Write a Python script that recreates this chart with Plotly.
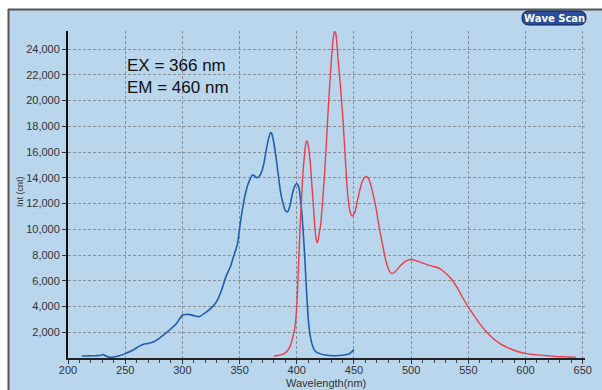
import plotly.graph_objects as go

# Excitation scan (blue)
ex_wl = [212, 216, 220, 224, 228, 231, 233, 236, 240, 245, 250, 257, 262, 266, 270, 275, 280, 286,
         291, 295, 300, 303, 307, 311, 315, 319, 323, 327, 330, 334, 338, 342, 345, 348, 351, 354,
         357, 359, 361, 363, 365, 367, 369, 371, 373, 375, 377, 378, 380, 382, 384, 386, 388, 390,
         392, 394, 396, 398, 400, 401, 402, 403, 404, 405, 406, 407, 408, 409, 410, 411, 412, 414,
         416, 420, 425, 432, 440, 446, 449, 450]
ex_int = [150, 160, 170, 180, 200, 260, 150, 70, 80, 180, 340, 620, 900, 1070, 1130, 1260, 1550, 1970,
          2350, 2700, 3320, 3380, 3370, 3260, 3220, 3450, 3720, 4050, 4400, 5200, 6300, 7100, 7950, 8800, 10700, 12300,
          13400, 13850, 14200, 14150, 14000, 14100, 14400, 15000, 16000, 16900, 17500, 17450, 16700, 15500, 14100, 12800, 12000, 11450,
          11350, 11800, 12700, 13300, 13550, 13450, 13200, 12500, 11700, 10600, 9300, 7850, 6100, 4500, 3100, 2200, 1600, 900,
          550, 340, 230, 180, 210, 330, 550, 650]

# Emission scan (red)
em_wl = [380, 385, 390, 393, 395, 397, 398.5, 400, 401, 402, 403, 404, 405, 406, 407, 408, 409, 410,
         411, 412, 413, 414, 415, 416, 417, 418, 419, 420, 421, 422, 423, 424, 425, 426, 427, 428,
         429, 430, 431, 432, 433, 434, 435, 436, 438, 440, 442, 444, 446, 448, 449, 451, 453, 455,
         457, 459, 461, 463, 465, 467, 469, 471, 473, 475, 477, 479, 481, 483, 485, 488, 491, 494,
         497, 500, 503, 507, 511, 515, 520, 525, 530, 535, 540, 545, 550, 555, 560, 566, 572, 578,
         584, 590, 596, 601, 607, 613, 619, 625, 632, 638, 644]
em_int = [150, 220, 400, 700, 1100, 1800, 2450, 4000, 6000, 8200, 10300, 12000, 13800, 15000, 16000, 16700, 16850, 16500,
          15900, 15000, 13700, 12500, 11200, 10000, 9200, 8950, 9300, 9900, 10400, 11500, 12700, 13900, 15300, 16900, 18500, 20100,
          21500, 22800, 24000, 24900, 25350, 25250, 24500, 23300, 21300, 19000, 16200, 13300, 11600, 11050, 11050, 11400, 12200, 13000,
          13650, 14000, 14100, 13900, 13350, 12600, 11800, 10700, 9700, 8800, 7900, 7200, 6750, 6570, 6620, 6900, 7200, 7450,
          7600, 7650, 7600, 7480, 7350, 7220, 7100, 6950, 6600, 6150, 5500, 4700, 3950, 3300, 2650, 2020, 1500, 1100,
          820, 600, 430, 340, 270, 220, 180, 130, 100, 80, 70]

x_ticks = [200, 250, 300, 350, 400, 450, 500, 550, 600, 650]
y_ticks = [2000, 4000, 6000, 8000, 10000, 12000, 14000, 16000, 18000, 20000, 22000, 24000]
y_tick_text = ["2,000", "4,000", "6,000", "8,000", "10,000", "12,000", "14,000", "16,000",
               "18,000", "20,000", "22,000", "24,000"]

BG = "#b9d6ed"
W, H = 602, 390
ML, MR, MT, MB = 68, 17, 31, 32
PW, PH = W - ML - MR, H - MT - MB
FONT = "Liberation Sans, Arial, sans-serif"


def px(x):
    return (x - ML) / PW


def py(y):
    return (H - MB - y) / PH


fig = go.Figure()
fig.add_trace(go.Scatter(x=ex_wl, y=ex_int, mode="lines",
                         line=dict(color="#1f5fb0", width=1.6, shape="spline", smoothing=0.6),
                         showlegend=False, hoverinfo="skip"))
fig.add_trace(go.Scatter(x=em_wl, y=em_int, mode="lines",
                         line=dict(color="#ee3d48", width=1.4, shape="spline", smoothing=0.6),
                         showlegend=False, hoverinfo="skip"))

tickfont = dict(family=FONT, size=11, color="#333333")
fig.update_xaxes(range=[200, 652], tickvals=x_ticks, ticks="outside", ticklen=4, tickcolor="#333",
                 ticklabelstandoff=-3, automargin=False,
                 minor=dict(dtick=10, ticks="outside", ticklen=3, tickcolor="#444", showgrid=False),
                 showline=True, linecolor="#222222", linewidth=2,
                 showgrid=True, gridcolor="#8a8f96", griddash="3px,2px", gridwidth=1,
                 zeroline=False, tickfont=tickfont)
fig.update_yaxes(range=[0, 25400], tickvals=y_ticks, ticktext=y_tick_text, ticks="outside", ticklen=4,
                 tickcolor="#333", showline=True, linecolor="#111111", linewidth=2, automargin=False,
                 showgrid=True, gridcolor="#8a8f96", griddash="3px,2px", gridwidth=1,
                 zeroline=False, tickfont=tickfont)

shapes = [
    # white strip at top and left, outside the panel
    dict(type="rect", xref="paper", yref="paper", x0=px(0), x1=px(W), y0=py(9), y1=py(0),
         fillcolor="white", line=dict(width=0), layer="below"),
    dict(type="rect", xref="paper", yref="paper", x0=px(0), x1=px(8), y0=py(H), y1=py(0),
         fillcolor="white", line=dict(width=0), layer="below"),
    # dark border lines of the panel
    dict(type="line", xref="paper", yref="paper", x0=px(8), x1=px(W), y0=py(9.5), y1=py(9.5),
         line=dict(color="#555555", width=2)),
    dict(type="line", xref="paper", yref="paper", x0=px(8.5), x1=px(8.5), y0=py(9), y1=py(H),
         line=dict(color="#555555", width=2)),
]

# "Wave Scan" badge (rounded)
bx0, bx1, by0, by1 = 522, 586, 11, 25
r = 7
path = (f"M {px(bx0 + r)} {py(by0)} L {px(bx1 - r)} {py(by0)} "
        f"Q {px(bx1)} {py(by0)} {px(bx1)} {py((by0 + by1) / 2)} "
        f"Q {px(bx1)} {py(by1)} {px(bx1 - r)} {py(by1)} "
        f"L {px(bx0 + r)} {py(by1)} "
        f"Q {px(bx0)} {py(by1)} {px(bx0)} {py((by0 + by1) / 2)} "
        f"Q {px(bx0)} {py(by0)} {px(bx0 + r)} {py(by0)} Z")
shapes.append(dict(type="path", xref="paper", yref="paper", path=path,
                   fillcolor="#2b4f9e", line=dict(color="#0d1f4d", width=1)))

annotations = [
    dict(text="Wave Scan", xref="paper", yref="paper", x=px(554), y=py(18), showarrow=False,
         font=dict(family="DejaVu Sans, sans-serif", size=10, color="white", weight="bold"),
         xanchor="center", yanchor="middle"),
    dict(text="EX = 366 nm", xref="paper", yref="paper", x=px(125), y=py(65), showarrow=False,
         font=dict(family=FONT, size=17, color="#111"), xanchor="left", yanchor="middle"),
    dict(text="EM = 460 nm", xref="paper", yref="paper", x=px(125), y=py(87), showarrow=False,
         font=dict(family=FONT, size=17, color="#111"), xanchor="left", yanchor="middle"),
    dict(text="Int (cnt)", xref="paper", yref="paper", x=px(20), y=py(192), showarrow=False,
         textangle=-90, font=dict(family=FONT, size=9, color="#333"),
         xanchor="center", yanchor="middle"),
    dict(text="Wavelength(nm)", xref="paper", yref="paper", x=px(326), y=py(382.5), showarrow=False,
         font=dict(family=FONT, size=11, color="#333"), xanchor="center", yanchor="middle"),
]

fig.update_layout(width=W, height=H, margin=dict(l=ML, r=MR, t=MT, b=MB, pad=0),
                  paper_bgcolor=BG, plot_bgcolor=BG, shapes=shapes, annotations=annotations)

fig.write_html("out.html")
